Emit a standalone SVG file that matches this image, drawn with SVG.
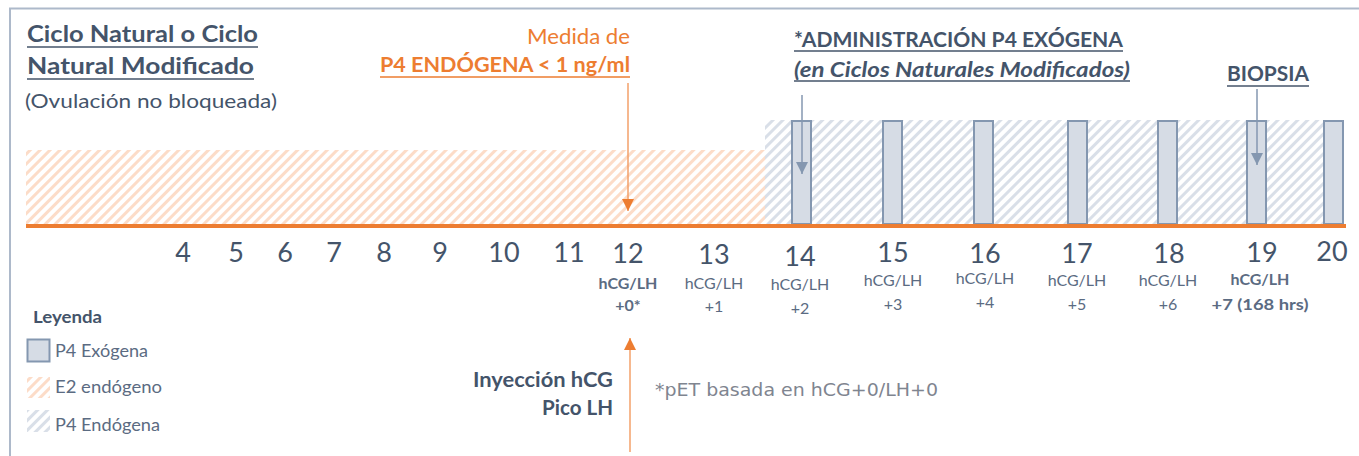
<svg xmlns="http://www.w3.org/2000/svg" width="1359" height="456" viewBox="0 0 1359 456">
<style>
.t{font-family:Lato,"Open Sans","Liberation Sans",sans-serif;fill:#44546a}
.b{font-weight:bold}
.o{fill:#ed7d31}
.num{font-size:27px;text-anchor:middle}
.sub{font-size:16px;text-anchor:middle;fill:#5b6b82}
.leg{font-size:17px;fill:#5b6b82}
.ul{stroke:#44546a;stroke-width:1.6}
.ulo{stroke:#ed7d31;stroke-width:1.6}
.bar{fill:#d6dce5;stroke:#8497b0;stroke-width:2}
</style>
<defs>
<pattern id="hO" patternUnits="userSpaceOnUse" width="7" height="7" patternTransform="rotate(45)">
<line x1="1.5" y1="0" x2="1.5" y2="7" stroke="#fcdcc8" stroke-width="3"/>
</pattern>
<pattern id="hB" patternUnits="userSpaceOnUse" width="7" height="7" patternTransform="rotate(45)">
<line x1="1.5" y1="0" x2="1.5" y2="7" stroke="#d9dfe8" stroke-width="3"/>
</pattern>
<marker id="aO" viewBox="0 0 10 10" refX="10" refY="5" markerWidth="12" markerHeight="12" markerUnits="userSpaceOnUse" orient="auto">
<path d="M0,0 L10,5 L0,10 z" fill="#ed7d31"/>
</marker>
<marker id="aB" viewBox="0 0 10 10" refX="10" refY="5" markerWidth="12" markerHeight="12" markerUnits="userSpaceOnUse" orient="auto">
<path d="M0,0 L10,5 L0,10 z" fill="#8497b0"/>
</marker>
</defs>

<g id="frame">
<line x1="9" y1="8.5" x2="1359" y2="8.5" stroke="#adb9ca" stroke-width="2"/>
<line x1="10" y1="8" x2="10" y2="456" stroke="#adb9ca" stroke-width="2"/>
</g>

<g id="title">
<text class="t b" x="27" y="42" font-size="23" textLength="231" lengthAdjust="spacingAndGlyphs">Ciclo Natural o Ciclo</text>
<line class="ul" x1="27" y1="47" x2="258" y2="47"/>
<text class="t b" x="27" y="74" font-size="23" textLength="227" lengthAdjust="spacingAndGlyphs">Natural Modificado</text>
<line class="ul" x1="27" y1="79" x2="254" y2="79"/>
<text class="t" x="25" y="108" font-size="20" textLength="252" lengthAdjust="spacingAndGlyphs">(Ovulación no bloqueada)</text>
</g>

<g id="e2-endogeno">
<rect x="26" y="150" width="739" height="75" fill="url(#hO)"/>
</g>
<g id="p4-endogena">
<rect x="765" y="120" width="578" height="105" fill="url(#hB)"/>
</g>

<g id="p4-exogena">
<rect class="bar" x="792" y="121" width="19" height="103"/>
<rect class="bar" x="883" y="121" width="19" height="103"/>
<rect class="bar" x="974" y="121" width="19" height="103"/>
<rect class="bar" x="1068" y="121" width="19" height="103"/>
<rect class="bar" x="1158" y="121" width="19" height="103"/>
<rect class="bar" x="1247" y="121" width="19" height="103"/>
<rect class="bar" x="1324" y="121" width="19" height="103"/>
</g>

<g id="baseline">
<line x1="26" y1="226" x2="1346" y2="226" stroke="#ed7d31" stroke-width="4"/>
</g>

<g id="medida">
<text class="t o" x="630" y="44" font-size="21" text-anchor="end" textLength="103" lengthAdjust="spacingAndGlyphs">Medida de</text>
<text class="t o b" x="630" y="72" font-size="21" text-anchor="end" textLength="250" lengthAdjust="spacingAndGlyphs">P4 ENDÓGENA &lt; 1 ng/ml</text>
<line class="ulo" x1="380" y1="77" x2="630" y2="77"/>
</g>

<g id="administracion">
<text class="t b" x="794" y="47" font-size="21" textLength="329" lengthAdjust="spacingAndGlyphs">*ADMINISTRACIÓN P4 EXÓGENA</text>
<line class="ul" x1="794" y1="51" x2="1123" y2="51"/>
<text class="t b" x="794" y="77" font-size="21" font-style="italic" textLength="336" lengthAdjust="spacingAndGlyphs">(en Ciclos Naturales Modificados)</text>
<line class="ul" x1="794" y1="81" x2="1130" y2="81"/>
</g>

<g id="biopsia">
<text class="t b" x="1227" y="81" font-size="21" textLength="82" lengthAdjust="spacingAndGlyphs">BIOPSIA</text>
<line class="ul" x1="1227" y1="86" x2="1309" y2="86"/>
</g>

<g id="axis">
<text class="t num" x="183" y="262">4</text>
<text class="t num" x="236" y="262">5</text>
<text class="t num" x="285" y="262">6</text>
<text class="t num" x="334" y="262">7</text>
<text class="t num" x="384" y="262">8</text>
<text class="t num" x="440" y="262">9</text>
<text class="t num" x="504" y="262">10</text>
<text class="t num" x="569" y="262">11</text>
<text class="t num" x="628" y="263">12</text>
<text class="t num" x="714" y="264">13</text>
<text class="t num" x="800" y="266">14</text>
<text class="t num" x="893" y="262">15</text>
<text class="t num" x="985" y="263">16</text>
<text class="t num" x="1077" y="263">17</text>
<text class="t num" x="1169" y="263">18</text>
<text class="t num" x="1262" y="262">19</text>
<text class="t num" x="1332" y="261">20</text>
</g>

<g id="sublabels">
<text class="t sub b" x="628" y="289" fill="#44546a">hCG/LH</text>
<text class="t sub b" x="628" y="311" fill="#44546a">+0*</text>
<text class="t sub" x="714" y="289">hCG/LH</text>
<text class="t sub" x="714" y="312">+1</text>
<text class="t sub" x="800" y="290">hCG/LH</text>
<text class="t sub" x="800" y="314">+2</text>
<text class="t sub" x="893" y="286">hCG/LH</text>
<text class="t sub" x="893" y="310">+3</text>
<text class="t sub" x="985" y="284">hCG/LH</text>
<text class="t sub" x="985" y="308">+4</text>
<text class="t sub" x="1077" y="286">hCG/LH</text>
<text class="t sub" x="1077" y="310">+5</text>
<text class="t sub" x="1168" y="286">hCG/LH</text>
<text class="t sub" x="1168" y="310">+6</text>
<text class="t sub b" x="1260" y="285" fill="#44546a">hCG/LH</text>
<text class="t sub b" x="1260" y="310" fill="#44546a" textLength="97" lengthAdjust="spacingAndGlyphs">+7 (168 hrs)</text>
</g>

<g id="inyeccion">
<text class="t b" x="613" y="387" font-size="21" text-anchor="end" textLength="140" lengthAdjust="spacingAndGlyphs">Inyección hCG</text>
<text class="t b" x="613" y="415" font-size="21" text-anchor="end" textLength="71" lengthAdjust="spacingAndGlyphs">Pico LH</text>
</g>

<g id="nota">
<text x="655" y="396" font-family="'DejaVu Sans','Liberation Sans',sans-serif" font-size="17" fill="#7f8590" textLength="283" lengthAdjust="spacingAndGlyphs">*pET basada en hCG+0/LH+0</text>
</g>

<g id="leyenda">
<text class="t b" x="33" y="323" font-size="17" textLength="69" lengthAdjust="spacingAndGlyphs">Leyenda</text>
<rect x="27.5" y="339.5" width="22" height="22" fill="#d6dce5" stroke="#8497b0" stroke-width="2"/>
<text class="t leg" x="55" y="357" textLength="93" lengthAdjust="spacingAndGlyphs">P4 Exógena</text>
<rect x="27" y="377" width="23" height="21" fill="url(#hO)"/>
<text class="t leg" x="55" y="393" textLength="107" lengthAdjust="spacingAndGlyphs">E2 endógeno</text>
<rect x="27" y="410" width="23" height="22" fill="url(#hB)"/>
<text class="t leg" x="55" y="431" textLength="105" lengthAdjust="spacingAndGlyphs">P4 Endógena</text>
</g>

<g id="connectors">
<line x1="628" y1="83" x2="628" y2="211" stroke="#f3a06a" stroke-width="1.5" marker-end="url(#aO)"/>
<line x1="630" y1="452" x2="630" y2="338" stroke="#f3a06a" stroke-width="1.5" marker-end="url(#aO)"/>
<line x1="802" y1="95" x2="802" y2="174" stroke="#8497b0" stroke-width="1.5" marker-end="url(#aB)"/>
<line x1="1257" y1="89" x2="1257" y2="165" stroke="#8497b0" stroke-width="1.5" marker-end="url(#aB)"/>
</g>
</svg>
